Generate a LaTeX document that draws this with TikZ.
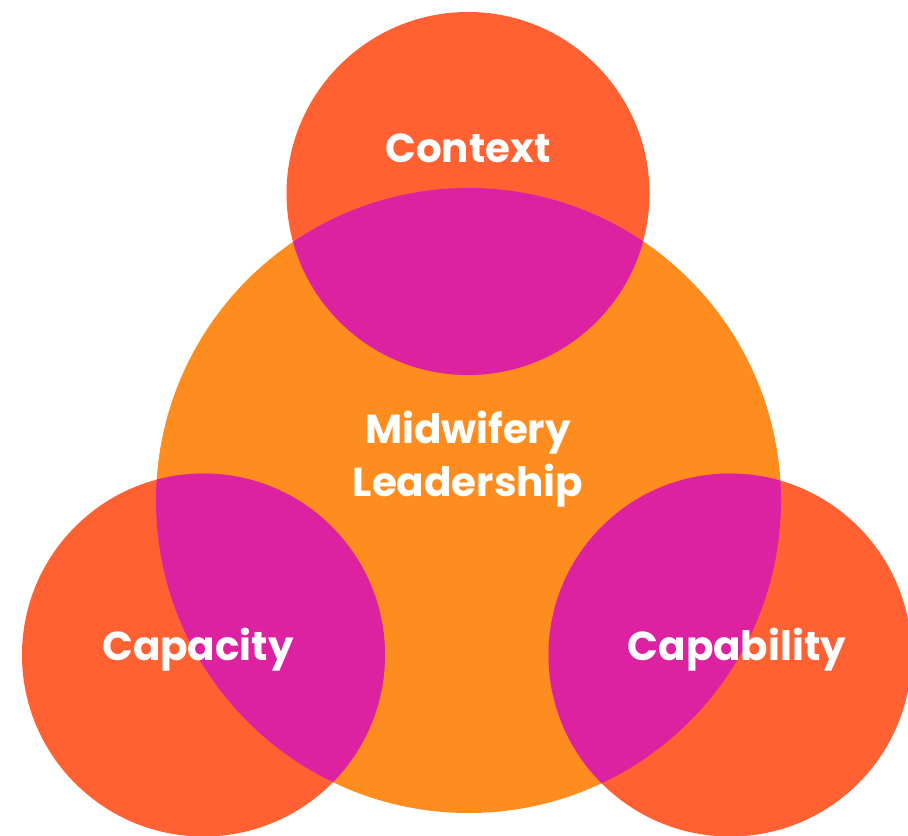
\documentclass[tikz,border=0pt]{standalone}
\usepackage{fontspec}
\setmainfont{Poppins}
\definecolor{midorange}{HTML}{FF8C1E}
\definecolor{ringred}{HTML}{FF6133}
\definecolor{overlap}{HTML}{DC22A0}
\tikzset{lbl/.style={text=white,font=\bfseries\fontsize{23}{30.5}\selectfont,align=center}}

\begin{document}
\begin{tikzpicture}[x=0.02cm,y=-0.02cm]
	\useasboundingbox (0,0) rectangle (908,835);
	\path
	(468.5,500.5) coordinate (M)
	(468,193.5) coordinate (T)
	(203.5,655) coordinate (L)
	(730,655) coordinate (R);
	\fill[midorange] (M) circle (312.5);
	\foreach \c in {T,L,R} \fill[ringred] (\c) circle (181.5);
	\foreach \c in {T,L,R} {
		\begin{scope}
			\clip (M) circle (312.5);
			\fill[overlap] (\c) circle (181.5);
		\end{scope}
	}
	\node[lbl] (context) at (468,148) {Context};
	\node[lbl] (leader) at (468,459) {Midwifery\\Leadership};
	\node[lbl] (capacity) at (198,650) {Capacity};
	\node[lbl] (capability) at (737,650) {Capability};
\end{tikzpicture}
\end{document}
